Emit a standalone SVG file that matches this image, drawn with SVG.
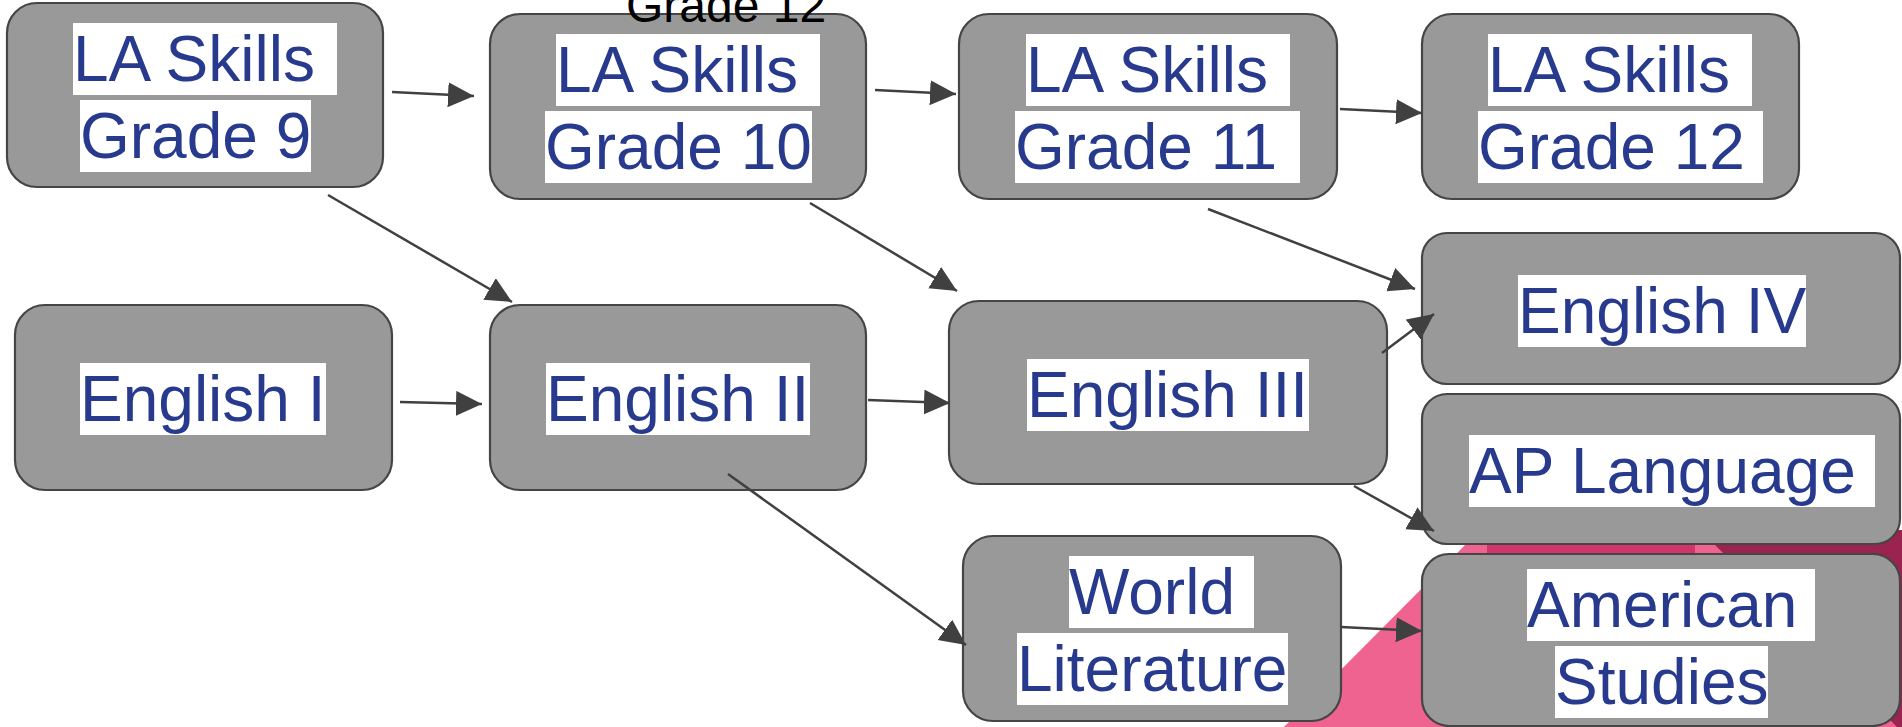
<svg xmlns="http://www.w3.org/2000/svg" width="1902" height="727" viewBox="0 0 1902 727">
  <defs>
    <marker id="arrow" markerUnits="userSpaceOnUse" markerWidth="27" markerHeight="26" refX="26" refY="12.5" orient="auto">
      <path d="M0,0 L26,12.5 L0,25 z" fill="#404040"/>
    </marker>
    <style>
      .node { fill: #999999; stroke: #454545; stroke-width: 2.2; }
      .lbg { fill: #ffffff; }
      .lbl { font-family: "Liberation Sans", Arial, sans-serif; font-size: 64px; fill: #283a8e; }
      .edge { stroke: #404040; stroke-width: 2.5; fill: none; marker-end: url(#arrow); }
    </style>
  </defs>
  <rect width="1902" height="727" fill="#ffffff"/>

  <g id="background">
    <polygon points="1284,727 1480,530 1902,530 1902,727" fill="#ef6391"/>
    <polygon points="1487,530 1695,530 1695,727 1487,727" fill="#d1346a"/>
    <polygon points="1700,530 1902,530 1902,732" fill="#9b234f"/>
  </g>

  <g id="n-la9">
    <rect class="node" x="7" y="3" width="376" height="184" rx="30"/>
    <rect class="lbg" x="73" y="23" width="264" height="72"/>
    <rect class="lbg" x="80" y="100" width="231" height="72"/>
    <text class="lbl" x="73" y="81">LA Skills</text>
    <text class="lbl" x="80" y="158">Grade 9</text>
  </g>
  <g id="n-la10">
    <rect class="node" x="490" y="14" width="376" height="185" rx="30"/>
    <rect class="lbg" x="556" y="34" width="264" height="72"/>
    <rect class="lbg" x="545" y="111" width="267" height="72"/>
    <text class="lbl" x="556" y="92">LA Skills</text>
    <text class="lbl" x="545" y="169">Grade 10</text>
  </g>
  <g id="n-la11">
    <rect class="node" x="959" y="14" width="378" height="185" rx="30"/>
    <rect class="lbg" x="1026" y="34" width="264" height="72"/>
    <rect class="lbg" x="1015" y="111" width="285" height="72"/>
    <text class="lbl" x="1026" y="92">LA Skills</text>
    <text class="lbl" x="1015" y="169">Grade 11</text>
  </g>
  <g id="n-la12">
    <rect class="node" x="1422" y="14" width="377" height="185" rx="30"/>
    <rect class="lbg" x="1488" y="34" width="264" height="72"/>
    <rect class="lbg" x="1478" y="111" width="285" height="72"/>
    <text class="lbl" x="1488" y="92">LA Skills</text>
    <text class="lbl" x="1478" y="169">Grade 12</text>
  </g>
  <g id="n-eng1">
    <rect class="node" x="15" y="305" width="377" height="185" rx="30"/>
    <rect class="lbg" x="80" y="363" width="246" height="72"/>
    <text class="lbl" x="80" y="421">English I</text>
  </g>
  <g id="n-eng2">
    <rect class="node" x="490" y="305" width="376" height="185" rx="30"/>
    <rect class="lbg" x="546" y="363" width="264" height="72"/>
    <text class="lbl" x="546" y="421">English II</text>
  </g>
  <g id="n-eng3">
    <rect class="node" x="949" y="301" width="438" height="183" rx="30"/>
    <rect class="lbg" x="1027" y="359" width="282" height="72"/>
    <text class="lbl" x="1027" y="417">English III</text>
  </g>
  <g id="n-eng4">
    <rect class="node" x="1422" y="233" width="478" height="151" rx="25"/>
    <rect class="lbg" x="1518" y="275" width="288" height="72"/>
    <text class="lbl" x="1518" y="333">English IV</text>
  </g>
  <g id="n-aplang">
    <rect class="node" x="1422" y="394" width="478" height="150" rx="25"/>
    <rect class="lbg" x="1469" y="435" width="406" height="72"/>
    <text class="lbl" x="1469" y="493">AP Language</text>
  </g>
  <g id="n-amstudies">
    <rect class="node" x="1422" y="554" width="478" height="172" rx="27"/>
    <rect class="lbg" x="1527" y="569" width="288" height="72"/>
    <rect class="lbg" x="1555" y="646" width="213" height="72"/>
    <text class="lbl" x="1527" y="627">American</text>
    <text class="lbl" x="1555" y="704">Studies</text>
  </g>
  <g id="n-worldlit">
    <rect class="node" x="963" y="536" width="378" height="185" rx="30"/>
    <rect class="lbg" x="1069" y="556" width="185" height="72"/>
    <rect class="lbg" x="1017" y="633" width="271" height="72"/>
    <text class="lbl" x="1069" y="614">World</text>
    <text class="lbl" x="1017" y="691">Literature</text>
  </g>

  <g id="connectors">
    <line class="edge" x1="392" y1="92" x2="474" y2="96"/>
    <line class="edge" x1="875" y1="90" x2="956" y2="94"/>
    <line class="edge" x1="1340" y1="109" x2="1422" y2="113"/>
    <line class="edge" x1="328" y1="195" x2="512" y2="302"/>
    <line class="edge" x1="810" y1="203" x2="957" y2="291"/>
    <line class="edge" x1="1208" y1="209" x2="1415" y2="289"/>
    <line class="edge" x1="400" y1="402" x2="482" y2="404"/>
    <line class="edge" x1="868" y1="400" x2="950" y2="403"/>
    <line class="edge" x1="1382" y1="353" x2="1434" y2="314"/>
    <line class="edge" x1="1354" y1="486" x2="1434" y2="531"/>
    <line class="edge" x1="728" y1="474" x2="966" y2="645"/>
    <line class="edge" x1="1341" y1="627" x2="1422" y2="631"/>
  </g>

  <text id="stray-label" x="626" y="22" font-family="'Liberation Sans', Arial, sans-serif" font-size="48" fill="#000000">Grade 12</text>
</svg>
